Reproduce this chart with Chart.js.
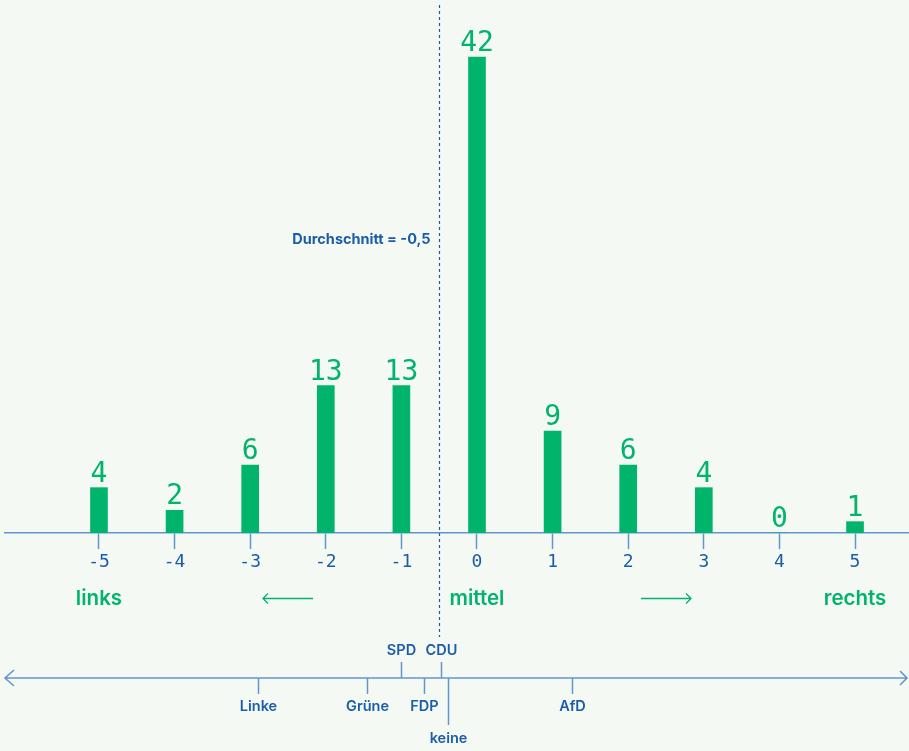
<!DOCTYPE html>
<html>
<head>
<meta charset="utf-8">
<script src="https://cdn.jsdelivr.net/npm/chart.js@4/dist/chart.umd.min.js"></script>
<style>
  html, body { margin: 0; padding: 0; background: #f4f9f4; }
  canvas { display: block; }
</style>
</head>
<body>
<canvas id="chart" width="909" height="751"></canvas>
<script>
// scale positions -5 (links) .. 5 (rechts)
const categories = [-5, -4, -3, -2, -1, 0, 1, 2, 3, 4, 5];
const counts = [4, 2, 6, 13, 13, 42, 9, 6, 4, 0, 1];
const average = -0.5;
const averageLabel = 'Durchschnitt = -0,5';
const directionLabels = ['links', 'mittel', 'rechts'];
const directionAt = [-5, 0, 5];
const arrowsAt = [-2.5, 2.5];
const parties = ['Linke', 'Grüne', 'SPD', 'FDP', 'CDU', 'keine', 'AfD'];
const partyPositions = [-2.9, -1.45, -1.0, -0.7, -0.48, -0.38, 1.25];

const GREEN = '#00b46c';
const BLUE = '#1c5ca8';
const LIGHTBLUE = '#6396cf';
const TEXT_FONT = 'Inter, "Noto Sans", sans-serif';
const NUM_FONT = '"DejaVu Sans Mono", monospace';

const overlay = {
  id: 'overlay',
  afterDatasetsDraw(chart) {
    const ctx = chart.ctx;
    const x = chart.scales.x;
    const area = chart.chartArea;
    ctx.save();

    // value labels above bars
    ctx.fillStyle = GREEN;
    ctx.font = '28px ' + NUM_FONT;
    ctx.textAlign = 'center';
    ctx.textBaseline = 'alphabetic';
    chart.getDatasetMeta(0).data.forEach((bar, i) => {
      ctx.fillText(String(counts[i]), bar.x, bar.y - 6);
    });

    // average line
    const ax = Math.round(x.getPixelForValue(average)) + 0.5;
    ctx.strokeStyle = BLUE;
    ctx.lineWidth = 1.2;
    ctx.setLineDash([3, 3]);
    ctx.beginPath();
    ctx.moveTo(ax, 5);
    ctx.lineTo(ax, 637);
    ctx.stroke();
    ctx.setLineDash([]);

    ctx.fillStyle = BLUE;
    ctx.font = '700 14.5px ' + TEXT_FONT;
    ctx.textAlign = 'right';
    ctx.textBaseline = 'middle';
    ctx.fillText(averageLabel, ax - 9, 240);

    // direction labels + arrows
    ctx.fillStyle = GREEN;
    ctx.font = '600 20.5px ' + TEXT_FONT;
    ctx.textAlign = 'center';
    directionLabels.forEach((t, i) => {
      ctx.fillText(t, x.getPixelForValue(directionAt[i]), 599);
    });
    ctx.strokeStyle = GREEN;
    ctx.lineWidth = 1.3;
    arrowsAt.forEach(v => {
      const cx = x.getPixelForValue(v);
      const dir = v < 0 ? -1 : 1;
      const y = 598.5;
      ctx.beginPath();
      ctx.moveTo(cx - 25, y);
      ctx.lineTo(cx + 25, y);
      const tip = cx + 25 * dir;
      ctx.moveTo(tip - 5 * dir, y - 5);
      ctx.lineTo(tip, y);
      ctx.lineTo(tip - 5 * dir, y + 5);
      ctx.stroke();
    });

    // party axis
    const py = 678;
    const left = area.left, right = 907;
    ctx.strokeStyle = LIGHTBLUE;
    ctx.lineWidth = 1.6;
    ctx.beginPath();
    ctx.moveTo(left, py);
    ctx.lineTo(right, py);
    ctx.moveTo(left + 9, py - 8);
    ctx.lineTo(left, py);
    ctx.lineTo(left + 9, py + 8);
    ctx.moveTo(right - 7, py - 7);
    ctx.lineTo(right, py);
    ctx.lineTo(right - 7, py + 7);
    ctx.stroke();

    ctx.font = '600 14.5px ' + TEXT_FONT;
    ctx.fillStyle = BLUE;
    ctx.textAlign = 'center';
    parties.forEach((p, i) => {
      const px = Math.round(x.getPixelForValue(partyPositions[i])) + 0.5;
      ctx.strokeStyle = LIGHTBLUE;
      ctx.lineWidth = 1.5;
      ctx.beginPath();
      if (p === 'SPD' || p === 'CDU') {
        ctx.moveTo(px, py - 16);
        ctx.lineTo(px, py);
        ctx.stroke();
        ctx.fillText(p, px, 651);
      } else if (p === 'keine') {
        ctx.moveTo(px, py);
        ctx.lineTo(px, 725);
        ctx.stroke();
        ctx.fillText(p, px, 739);
      } else {
        ctx.moveTo(px, py);
        ctx.lineTo(px, py + 16);
        ctx.stroke();
        ctx.fillText(p, px, 707);
      }
    });

    ctx.restore();
  }
};

new Chart(document.getElementById('chart'), {
  type: 'bar',
  data: {
    datasets: [{
      data: categories.map((c, i) => ({x: c, y: counts[i]})),
      backgroundColor: GREEN,
      borderWidth: 0,
      barThickness: 17
    }]
  },
  options: {
    responsive: false,
    animation: false,
    layout: {padding: {left: 5, right: 0, top: 0, bottom: 0}},
    plugins: {legend: {display: false}, tooltip: {enabled: false}},
    scales: {
      x: {
        type: 'linear',
        offset: false,
        min: -6.243,
        max: 5.714,
        afterBuildTicks: s => {
          s.ticks = categories.map(v => ({value: v}));
        },
        afterFit: s => { s.height = 218; },
        border: {display: true, color: LIGHTBLUE, width: 1.5},
        grid: {offset: false, drawOnChartArea: false, drawTicks: true, tickLength: 16, tickColor: LIGHTBLUE, tickWidth: 1.5},
        ticks: {
          color: BLUE,
          font: {family: NUM_FONT, size: 18},
          padding: 3,
          maxRotation: 0,
          autoSkip: false,
          callback: v => String(v)
        }
      },
      y: {
        display: false,
        min: 0,
        max: 47.03
      }
    }
  },
  plugins: [overlay]
});
</script>
</body>
</html>
